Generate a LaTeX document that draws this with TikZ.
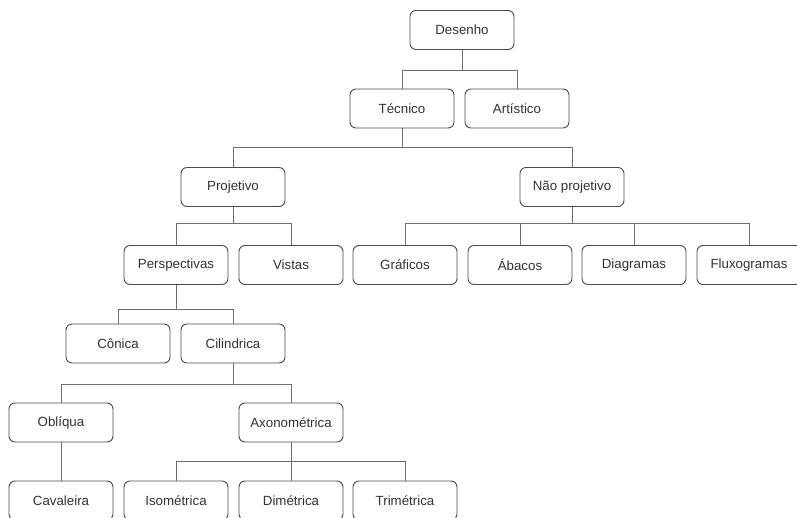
\documentclass[tikz,border=0pt]{standalone}
\usepackage{fontspec}
\setmainfont{Liberation Sans}
\definecolor{boxline}{HTML}{4A4A4A}
\definecolor{conline}{HTML}{6E6E6E}
\definecolor{txt}{HTML}{333333}
\begin{document}
\begin{tikzpicture}[x=1pt,y=-1pt,
  box/.style={draw=boxline, line width=0.9pt, rounded corners=6pt, fill=white,
    minimum width=104pt, minimum height=39pt, inner sep=0pt,
    font=\fontsize{13.3}{15}\selectfont, text=txt},
  con/.style={draw=conline, line width=0.9pt}]
\useasboundingbox (0,0) rectangle (797,518);
\clip (0,0) rectangle (797,518);
\fill[white] (0,0) rectangle (797,518);
% nodes
\node[box] (desenho) at (462,30) {Desenho};
\node[box] (tecnico) at (402,108.5) {Técnico};
\node[box] (artistico) at (517,108.5) {Artístico};
\node[box] (projetivo) at (233,187) {Projetivo};
\node[box] (naoproj) at (572,187) {Não projetivo};
\node[box] (perspectivas) at (176,265) {Perspectivas};
\node[box] (vistas) at (291,265) {Vistas};
\node[box] (graficos) at (405,265) {Gráficos};
\node[box] (abacos) at (520,265) {Ábacos};
\node[box] (diagramas) at (634,265) {Diagramas};
\node[box] (fluxogramas) at (749,265) {Fluxogramas};
\node[box] (conica) at (118,343.5) {Cônica};
\node[box] (cilindrica) at (233,343.5) {Cilindrica};
\node[box] (obliqua) at (61,422.5) {Oblíqua};
\node[box] (axonometrica) at (291,422.5) {Axonométrica};
\node[box] (cavaleira) at (61,500.5) {Cavaleira};
\node[box] (isometrica) at (176,500.5) {Isométrica};
\node[box] (dimetrica) at (291,500.5) {Dimétrica};
\node[box] (trimetrica) at (405,500.5) {Trimétrica};
% connectors
\draw[con] (desenho.south) -- (desenho.south |- 0,70);
\draw[con] (tecnico.north) |- (artistico.north |- 0,70) -- (artistico.north);
\draw[con] (tecnico.south) -- (tecnico.south |- 0,147);
\draw[con] (projetivo.north) |- (naoproj.north |- 0,147) -- (naoproj.north);
\draw[con] (projetivo.south) -- (projetivo.south |- 0,223);
\draw[con] (perspectivas.north) |- (vistas.north |- 0,223) -- (vistas.north);
\draw[con] (naoproj.south) -- (naoproj.south |- 0,223);
\draw[con] (graficos.north) |- (fluxogramas.north |- 0,223) -- (fluxogramas.north);
\draw[con] (abacos.north) -- (abacos.north |- 0,223);
\draw[con] (diagramas.north) -- (diagramas.north |- 0,223);
\draw[con] (perspectivas.south) -- (perspectivas.south |- 0,309);
\draw[con] (conica.north) |- (cilindrica.north |- 0,309) -- (cilindrica.north);
\draw[con] (cilindrica.south) -- (cilindrica.south |- 0,384);
\draw[con] (obliqua.north) |- (axonometrica.north |- 0,384) -- (axonometrica.north);
\draw[con] (obliqua.south) -- (cavaleira.north);
\draw[con] (axonometrica.south) -- (axonometrica.south |- 0,461);
\draw[con] (isometrica.north) |- (trimetrica.north |- 0,461) -- (trimetrica.north);
\draw[con] (dimetrica.north) -- (dimetrica.north |- 0,461);
\end{tikzpicture}
\end{document}
